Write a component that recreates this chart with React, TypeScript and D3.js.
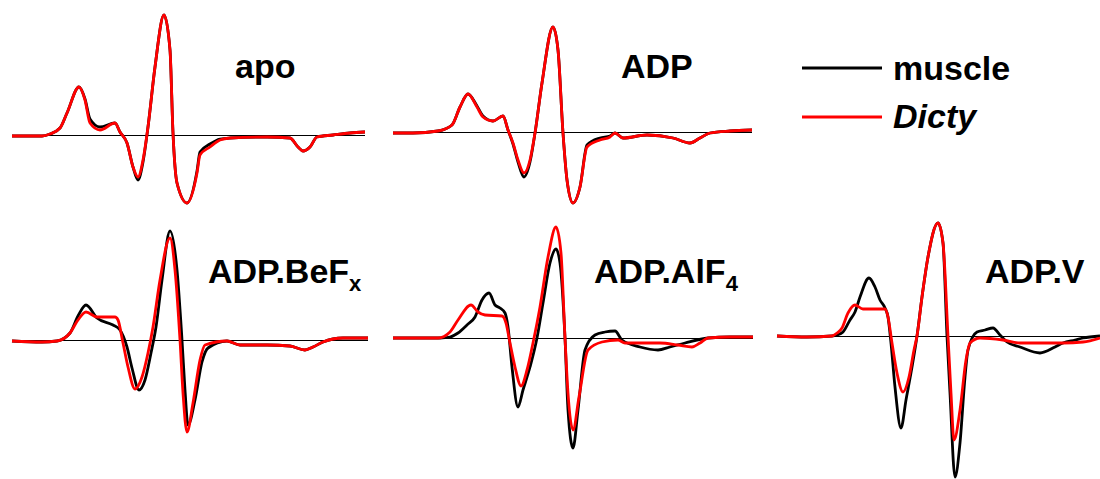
import React from "react";
import * as d3 from "d3";

// EPR spectra: field offset (a.u.) vs amplitude (a.u.), baseline = 0
const apoMuscle: [number, number][] = [
  [0, -1], [30, -1], [38, 1], [48, 7], [55, 22], [67, 48], [73, 36], [78, 16], [88, 8], [103, 12], [108, 3],
  [115, -8], [121, -32], [126, -45], [131, -27], [136, 8], [143, 68], [152, 120], [158, 85], [161, 2],
  [165, -48], [175, -68], [185, -36], [188, -17], [198, -9], [208, -4], [218, -3], [255, -2], [278, -3],
  [286, -12], [291, -16], [298, -12], [305, -2], [321, 0], [338, 2], [353, 3],
];
const apoDicty: [number, number][] = [
  [0, -1], [30, -1], [38, 1], [48, 7], [55, 22], [67, 48], [73, 35], [78, 12], [88, 5], [103, 12], [108, 3],
  [115, -8], [121, -32], [126, -42], [131, -25], [136, 8], [143, 68], [152, 120], [158, 85], [161, 2],
  [165, -48], [175, -68], [185, -38], [188, -20], [198, -12], [208, -5], [218, -3], [255, -2], [278, -3],
  [286, -12], [291, -16], [298, -12], [305, -2], [321, 0], [338, 2], [353, 3],
];
const adpMuscle: [number, number][] = [
  [0, -1], [20, -1], [45, 1], [59, 7], [67, 25], [75, 38], [84, 26], [90, 16], [100, 11], [110, 16], [115, 2],
  [120, -12], [125, -30], [131, -45], [137, -30], [142, -1], [149, 49], [160, 105], [165, 82], [170, -1],
  [174, -48], [180, -71], [187, -55], [194, -13], [207, -6], [217, -4], [222, -1], [230, -6], [254, -3],
  [280, -6], [297, -11], [307, -6], [317, -1], [337, 1], [359, 2],
];
const adpDicty: [number, number][] = [
  [0, -1], [20, -1], [45, 1], [59, 7], [67, 25], [75, 38], [84, 25], [90, 15], [100, 11], [110, 16], [115, 2],
  [120, -11], [125, -28], [131, -41], [137, -28], [142, -1], [149, 49], [160, 105], [165, 82], [170, -1],
  [174, -48], [180, -71], [187, -55], [194, -15], [207, -8], [217, -5], [222, -1], [230, -6], [254, -3],
  [280, -6], [297, -11], [307, -6], [317, -1], [337, 1], [359, 2],
];
const befMuscle: [number, number][] = [
  [0, -1], [30, -2], [45, -1], [58, 7], [66, 24], [74, 35], [85, 22], [101, 15], [108, 10], [115, -7],
  [120, -28], [127, -50], [133, -40], [139, -13], [144, 13], [150, 60], [158, 109], [165, 70], [170, 0],
  [173, -50], [176, -85], [183, -60], [190, -22], [196, -8], [215, -1], [228, -5], [255, -5], [278, -6],
  [293, -10], [301, -7], [311, -2], [331, 2], [356, 2],
];
const befDicty: [number, number][] = [
  [0, -1], [30, -2], [45, -1], [58, 7], [66, 20], [74, 28], [85, 23], [103, 23], [106, 20], [111, -3],
  [116, -27], [123, -49], [130, -37], [136, -13], [141, 13], [148, 60], [158, 102], [163, 70], [168, 0],
  [171, -53], [175, -92], [181, -63], [188, -20], [193, -5], [215, -1], [228, -5], [255, -5], [278, -6],
  [293, -10], [301, -7], [311, -2], [331, 2], [356, 2],
];
const alfMuscle: [number, number][] = [
  [0, 0], [47, 0], [57, 1], [65, 5], [74, 13], [82, 21], [89, 38], [96, 45], [102, 33], [107, 30], [112, 25],
  [115, 11], [119, -29], [125, -69], [130, -52], [137, -29], [144, 0], [150, 35], [157, 75], [163, 89],
  [167, 75], [172, 0], [175, -72], [180, -110], [185, -72], [192, -12], [202, 3], [212, 6], [222, 7],
  [229, -2], [247, -9], [265, -12], [277, -9], [292, -5], [315, 0], [337, 1], [360, 1],
];
const alfDicty: [number, number][] = [
  [0, 0], [45, 0], [57, 6], [65, 18], [78, 33], [85, 26], [92, 23], [109, 22], [113, 15], [117, -5],
  [122, -29], [128, -48], [134, -32], [140, -5], [147, 31], [155, 81], [163, 111], [168, 85], [172, 0],
  [175, -55], [180, -92], [186, -59], [195, -12], [209, -4], [225, -2], [232, -5], [267, -5], [285, -7],
  [299, -9], [307, -5], [315, 0], [337, 1], [360, 1],
];
const vMuscle: [number, number][] = [
  [0, 0], [30, -1], [55, 0], [60, 1], [66, 4], [73, 16], [78, 24], [83, 39], [92, 58], [98, 49], [103, 36],
  [108, 28], [111, 19], [114, -7], [118, -51], [124, -92], [129, -64], [135, -31], [140, 0], [145, 39],
  [151, 79], [161, 113], [166, 93], [170, 0], [173, -57], [178, -141], [183, -107], [188, -41], [191, -14],
  [200, 4], [208, 6], [216, 8], [223, 1], [230, -6], [243, -11], [263, -17], [278, -11], [286, -7],
  [298, -4], [306, -2], [323, 0],
];
const vDicty: [number, number][] = [
  [0, 0], [30, -1], [55, 0], [60, 3], [65, 8], [71, 23], [78, 31], [86, 27], [108, 27], [111, 19], [115, -7],
  [120, -37], [126, -56], [132, -41], [137, -14], [140, 0], [145, 39], [151, 79], [161, 113], [166, 93],
  [171, 0], [174, -57], [177, -104], [183, -74], [189, -24], [193, -7], [203, -2], [226, -4], [243, -7],
  [286, -7], [306, -6], [323, -2],
];

const panelNames = ["apo", "ADP", "ADP.BeF", "ADP.AlF", "ADP.V"];
const panelSubs = ["", "", "x", "4", ""];
const legendLabels = ["muscle", "Dicty"];

const panels = [
  { name: panelNames[0], sub: panelSubs[0], muscle: apoMuscle, dicty: apoDicty, left: 12, base: 135, end: 353, lx: 235, ly: 78 },
  { name: panelNames[1], sub: panelSubs[1], muscle: adpMuscle, dicty: adpDicty, left: 393, base: 132, end: 359, lx: 621, ly: 78 },
  { name: panelNames[2], sub: panelSubs[2], muscle: befMuscle, dicty: befDicty, left: 12, base: 340, end: 356, lx: 208, ly: 283 },
  { name: panelNames[3], sub: panelSubs[3], muscle: alfMuscle, dicty: alfDicty, left: 393, base: 338, end: 360, lx: 594, ly: 283 },
  { name: panelNames[4], sub: panelSubs[4], muscle: vMuscle, dicty: vDicty, left: 777, base: 336, end: 323, lx: 985, ly: 283 },
];

const FONT = "'Liberation Sans', Arial, Helvetica, sans-serif";

export default function App() {
  return (
    <svg width={1100} height={479} style={{ position: "absolute", left: 0, top: 0, background: "#fff" }}>
      {panels.map((p, i) => {
        const x = d3.scaleLinear().domain([0, 360]).range([p.left, p.left + 360]);
        const y = d3.scaleLinear().domain([-150, 130]).range([p.base + 150, p.base - 130]);
        const line = d3
          .line<[number, number]>()
          .x((d) => x(d[0]))
          .y((d) => y(d[1]))
          .curve(d3.curveMonotoneX);
        return (
          <g key={i}>
            <line x1={x(0)} x2={x(p.end)} y1={y(0) + 0.5} y2={y(0) + 0.5} stroke="#000" strokeWidth={1} />
            <path d={line(p.muscle) || ""} fill="none" stroke="#000" strokeWidth={2.8} strokeLinejoin="round" />
            <path d={line(p.dicty) || ""} fill="none" stroke="#ff0000" strokeWidth={2.8} strokeLinejoin="round" />
            <text x={p.lx} y={p.ly} fontFamily={FONT} fontWeight="bold" fontSize={34} fill="#000">
              {p.name}
              {p.sub ? (
                <tspan fontSize={22} dy={8}>
                  {p.sub}
                </tspan>
              ) : null}
            </text>
          </g>
        );
      })}
      <g>
        <line x1={802} x2={882} y1={68} y2={68} stroke="#000" strokeWidth={3} />
        <text x={893} y={80} fontFamily={FONT} fontWeight="bold" fontSize={34} fill="#000">
          {legendLabels[0]}
        </text>
        <line x1={802} x2={882} y1={117} y2={117} stroke="#ff0000" strokeWidth={3} />
        <text x={893} y={128} fontFamily={FONT} fontWeight="bold" fontStyle="italic" fontSize={34} fill="#000">
          {legendLabels[1]}
        </text>
      </g>
    </svg>
  );
}
